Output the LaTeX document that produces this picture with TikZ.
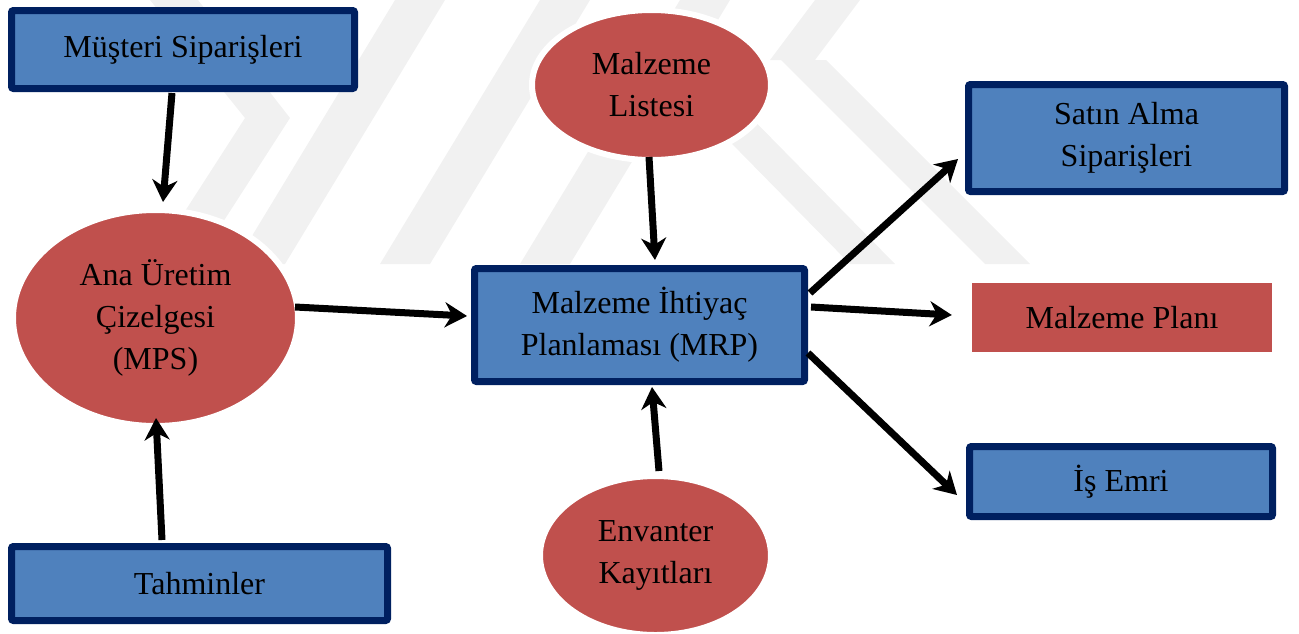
\documentclass[tikz,border=0pt]{standalone}
\usepackage{fontspec}
\setmainfont{Liberation Serif}
\usetikzlibrary{shapes.geometric,arrows.meta}
\definecolor{bfill}{HTML}{4F81BD}
\definecolor{bline}{HTML}{002060}
\definecolor{rfill}{HTML}{C0504D}
\definecolor{wmark}{HTML}{F1F1F1}
\newcommand{\mainfs}{\fontsize{32}{42}\selectfont}
\tikzset{
  box/.style={rectangle, draw=bline, fill=bfill, line width=7pt, rounded corners=2pt, inner sep=0pt, align=center, font=\mainfs},
  rbox/.style={rectangle, fill=rfill, inner sep=0pt, align=center, font=\mainfs},
  oval/.style={ellipse, draw=white, fill=rfill, line width=6pt, inner sep=0pt, outer sep=0pt, align=center, font=\mainfs},
  arr/.style={-{Stealth[length=22pt,width=25pt,inset=7pt]}, line width=7pt, black},
  wmstripe/.style={fill=wmark, draw=none},
}
\begin{document}
\begin{tikzpicture}[x=1pt,y=-1pt]
\useasboundingbox (0,0) rectangle (1299,633);
% faint watermark
\fill[wmstripe] (150,0) -- (198,0) -- (290,118) -- (205,250) -- (160,250) -- (245,118) -- cycle;
\fill[wmstripe] (235,264) -- (285,264) -- (445,0) -- (395,0) -- cycle;
\fill[wmstripe] (380,264) -- (430,264) -- (590,0) -- (540,0) -- cycle;
\fill[wmstripe] (520,264) -- (570,264) -- (730,0) -- (680,0) -- cycle;
\fill[wmstripe] (630,40) -- (675,40) -- (895,264) -- (850,264) -- cycle;
\fill[wmstripe] (781,60) -- (826,60) -- (1030,264) -- (985,264) -- cycle;
\fill[wmstripe] (770,60) -- (815,60) -- (860,0) -- (815,0) -- cycle;

% nodes
\node[box, minimum width=343pt, minimum height=78pt] (ms) at (183,49.5) {Müşteri Siparişleri};
\node[box, minimum width=376pt, minimum height=74pt] (th) at (199.5,583.5) {Tahminler};
\node[oval, minimum width=285pt, minimum height=216pt] (mps) at (155.5,318) {Ana Üretim\\Çizelgesi\\(MPS)};
\node[oval, minimum width=239pt, minimum height=150pt] (ml) at (651.5,85) {Malzeme\\Listesi};
\node[box, minimum width=330pt, minimum height=113pt] (mrp) at (639.5,325) {Malzeme İhtiyaç\\Planlaması (MRP)};
\node[oval, minimum width=231pt, minimum height=159pt] (env) at (655.5,555.5) {Envanter\\Kayıtları};
\node[box, minimum width=316pt, minimum height=107pt] (sa) at (1126.5,138) {Satın Alma\\Siparişleri};
\node[rbox, minimum width=300pt, minimum height=69pt] (mp) at (1122,317.5) {Malzeme Planı};
\node[box, minimum width=303pt, minimum height=70pt] (ie) at (1121,481.5) {İş Emri};

% connectors
\draw[arr] ([shift={(-11,1)}]ms.south) -- ([shift={(7.5,-8)}]mps.north);
\draw[arr] ([shift={(-37.5,-3)}]th.north) -- ([shift={(0.5,-8)}]mps.south);
\draw[arr] ([shift={(-3,-11)}]mps.east) -- ([shift={(-4,-9)}]mrp.west);
\draw[arr] ([shift={(-2.5,-3)}]ml.south) -- ([shift={(15.5,-5)}]mrp.north);
\draw[arr] ([shift={(3.5,-5)}]env.north) -- ([shift={(12.5,2)}]mrp.south);
\draw[arr] ([shift={(2,-32)}]mrp.east) -- ([shift={(-7,21)}]sa.west);
\draw[arr] ([shift={(3,-18)}]mrp.east) -- ([shift={(-20,-2.5)}]mp.west);
\draw[arr] ([shift={(0,28)}]mrp.east) -- ([shift={(-9,13.5)}]ie.west);
\end{tikzpicture}
\end{document}
